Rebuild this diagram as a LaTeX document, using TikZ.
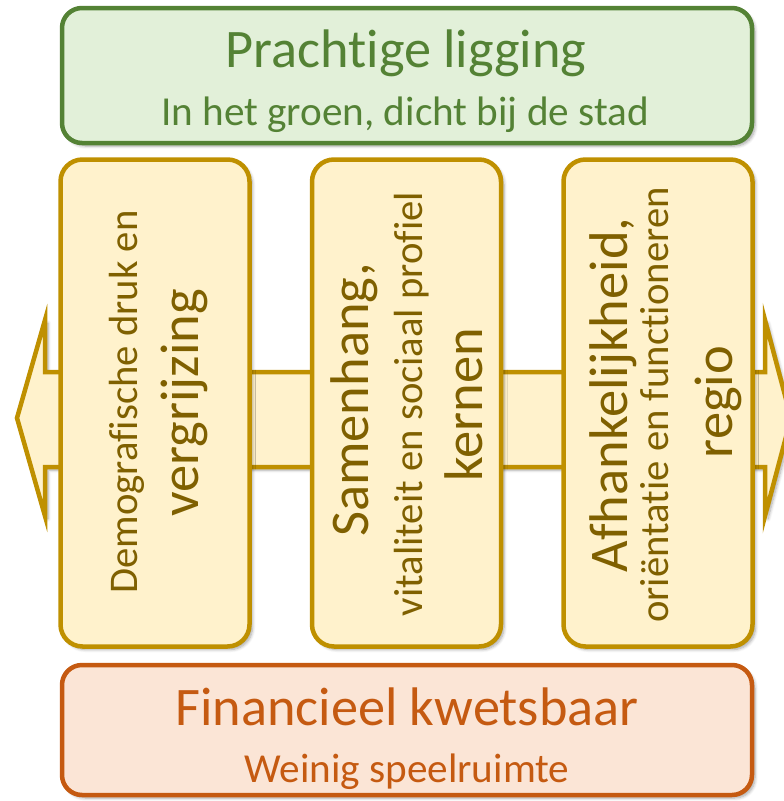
\documentclass[tikz,border=0pt]{standalone}
\usepackage{fontspec}
\setmainfont[Ligatures=NoCommon]{Carlito}
\usetikzlibrary{shadows.blur}
\definecolor{gborder}{HTML}{548235}
\definecolor{gfill}{HTML}{E2F0D9}
\definecolor{gtext}{HTML}{548235}
\definecolor{oborder}{HTML}{C55A11}
\definecolor{ofill}{HTML}{FBE5D6}
\definecolor{otext}{HTML}{C55A11}
\definecolor{yborder}{HTML}{BF9000}
\definecolor{yfill}{HTML}{FFF2CC}
\definecolor{ytext}{HTML}{7F6000}
\tikzset{
  shade/.style={blur shadow={shadow xshift=3pt, shadow yshift=-3pt, shadow blur steps=6, shadow opacity=35, shadow blur radius=3pt}},
  bigbox/.style={draw, line width=4.5pt, rounded corners=20pt, minimum width=690pt, shade, inner sep=0pt},
  colbox/.style={draw=yborder, fill=yfill, line width=4.5pt, rounded corners=22pt, minimum width=189pt, minimum height=487pt, shade, inner sep=0pt},
  bigtxt/.style={font=\fontsize{54.3}{60}\selectfont, inner sep=0pt, anchor=base},
  subtxt/.style={font=\fontsize{41.2}{48}\selectfont, inner sep=0pt, anchor=base},
  colbig/.style={font=\fontsize{54.5}{60}\selectfont, text=ytext, inner sep=0pt, anchor=base, rotate=90},
  colsmall/.style={font=\fontsize{40.7}{48}\selectfont, text=ytext, inner sep=0pt, anchor=base, rotate=90},
}
\begin{document}
\begin{tikzpicture}[x=1pt,y=-1pt]
\useasboundingbox (0,0) rectangle (784,801);
\clip (0,0) rectangle (784,801);
% top box
\node[bigbox, draw=gborder, fill=gfill, minimum height=135pt] (top) at (407,75.5) {};
\node[bigtxt, text=gtext] (toptitle) at (406,67) {Prachtige ligging};
\node[subtxt, text=gtext] (topsub) at (405,125) {In het groen, dicht bij de stad};
% bottom box
\node[bigbox, draw=oborder, fill=ofill, minimum height=130pt] (bot) at (407,730) {};
\node[bigtxt, text=otext] (bottitle) at (407,725) {Financieel kwetsbaar};
\node[subtxt, text=otext] (botsub) at (407,782) {Weinig speelruimte};
% double arrow
\draw[draw=yborder, fill=yfill, line width=4.5pt, line join=miter, shade]
  (17,418) -- (45,320) -- (45,372) -- (765,372) -- (765,320) -- (791,418)
  -- (765,516) -- (765,467) -- (45,467) -- (45,516) -- cycle;
% columns
\node[colbox] (c1) at (155,403) {};
\node[colbox] (c2) at (406.5,403) {};
\node[colbox] (c3) at (658,403) {};
% column texts
\node[colsmall] (c1a) at (137,402) {Demografische druk en};
\node[colbig] (c1b) at (198,403) {vergrijzing};
\node[colbig] (c2a) at (368,400) {Samenhang,};
\node[colsmall] (c2b) at (422,404) {vitaliteit en sociaal profiel};
\node[colbig] (c2c) at (482,405) {kernen};
\node[colbig] (c3a) at (627,395) {Afhankelijkheid,};
\node[colsmall] (c3b) at (668,405) {oriëntatie en functioneren};
\node[colbig] (c3c) at (732,402) {regio};
\end{tikzpicture}
\end{document}
